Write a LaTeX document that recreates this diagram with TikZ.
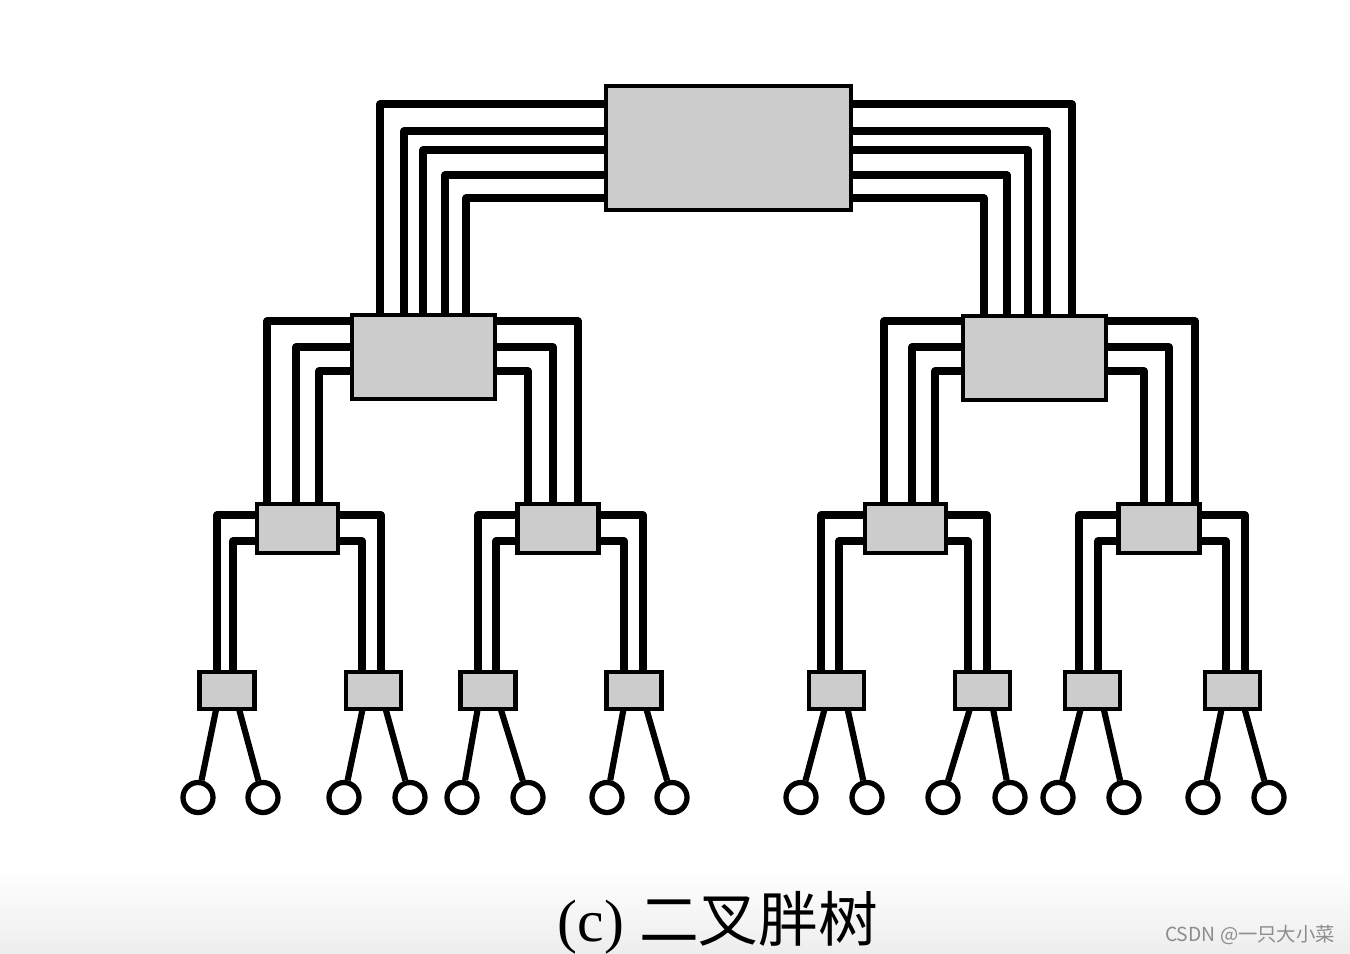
\documentclass[tikz,border=0pt]{standalone}
\usepackage{fontspec}
\setmainfont{Liberation Serif}
\newfontfamily\cjk{Noto Sans CJK SC}
\usetikzlibrary{calc,backgrounds}

\begin{document}
\begin{tikzpicture}[x=0.02cm, y=-0.02cm,
  box/.style={draw, line width=2.7pt, fill=gray!40, inner sep=0pt},
  rootbox/.style={box, minimum width=4.9cm, minimum height=2.48cm},
  midbox/.style={box, minimum width=2.86cm, minimum height=1.68cm},
  lowbox/.style={box, minimum width=1.62cm, minimum height=0.98cm},
  leafbox/.style={box, minimum width=1.1cm, minimum height=0.74cm},
  proc/.style={draw, circle, fill=white, line width=3pt, minimum size=0.6cm, inner sep=0pt},
  wire/.style={line width=4pt, line join=round}]
  \useasboundingbox (0,0) rectangle (1350,954);
  \shade[top color=white, bottom color=black!7] (0,870) rectangle (1350,954);

  % switches
  \node[rootbox] (R) at (728.5,148) {};
  \node[midbox] (A) at (423.5,357) {};
  \node[midbox] (B) at (1034.5,358) {};
  \foreach \n/\x in {A1/297.5, A2/558, B1/905.5, B2/1159}
    \node[lowbox] (\n) at (\x,528.5) {};
  \foreach \n/\x in {a1/227, a2/373.5, a3/488, a4/634, b1/836.5, b2/982.5, b3/1092.5, b4/1232.5}
    \node[leafbox] (\n) at (\x,690.5) {};

  % processors
  \foreach \n/\l/\r in {a1/198/263, a2/344/410, a3/462/528, a4/607/672, b1/801/867, b2/943/1010, b3/1058/1124, b4/1203/1269} {
    \node[proc] (\n l) at (\l,797.5) {};
    \node[proc] (\n r) at (\r,797.5) {};
  }

  \begin{scope}[on background layer]
    % fat links
    \foreach \y/\x in {104/380, 131/404, 150/423, 175/445, 198/466}
      \draw[wire] (R.west |- 0,\y) -| (\x,0 |- A.north);
    \foreach \y/\x in {104/1072, 131/1047, 150/1028, 175/1007, 198/984}
      \draw[wire] (R.east |- 0,\y) -| (\x,0 |- B.north);
    \foreach \p/\s/\c/\u/\v/\w in {A/west/A1/267/296/319, A/east/A2/578/553/528, B/west/B1/884/912/935, B/east/B2/1195/1169/1144} {
      \draw[wire] (\p.\s |- 0,321) -| (\u,0 |- \c.north);
      \draw[wire] (\p.\s |- 0,347) -| (\v,0 |- \c.north);
      \draw[wire] (\p.\s |- 0,371) -| (\w,0 |- \c.north);
    }
    \foreach \p/\s/\c/\u/\v in {A1/west/a1/217/233, A1/east/a2/381/362, A2/west/a3/478/496, A2/east/a4/643/624, B1/west/b1/821/839, B1/east/b2/987/968, B2/west/b3/1079/1098, B2/east/b4/1245/1226} {
      \draw[wire] (\p.\s |- 0,515) -| (\u,0 |- \c.north);
      \draw[wire] (\p.\s |- 0,541) -| (\v,0 |- \c.north);
    }
    % leaves
    \foreach \n in {a1,a2,a3,a4,b1,b2,b3,b4} {
      \draw[wire, line width=3.5pt] ($(\n.center)+(-7,0)$) -- (\n l);
      \draw[wire, line width=3.5pt] ($(\n.center)+(7,0)$) -- (\n r);
    }
  \end{scope}

  \node[font=\fontsize{34}{38}\selectfont] (cap) at (718,923) {(c) {\cjk 二叉胖树}};
  \node[text=black!45, font=\cjk\fontsize{11}{13}\selectfont] (wm) at (1250,935) {CSDN @一只大小菜};
\end{tikzpicture}
\end{document}
